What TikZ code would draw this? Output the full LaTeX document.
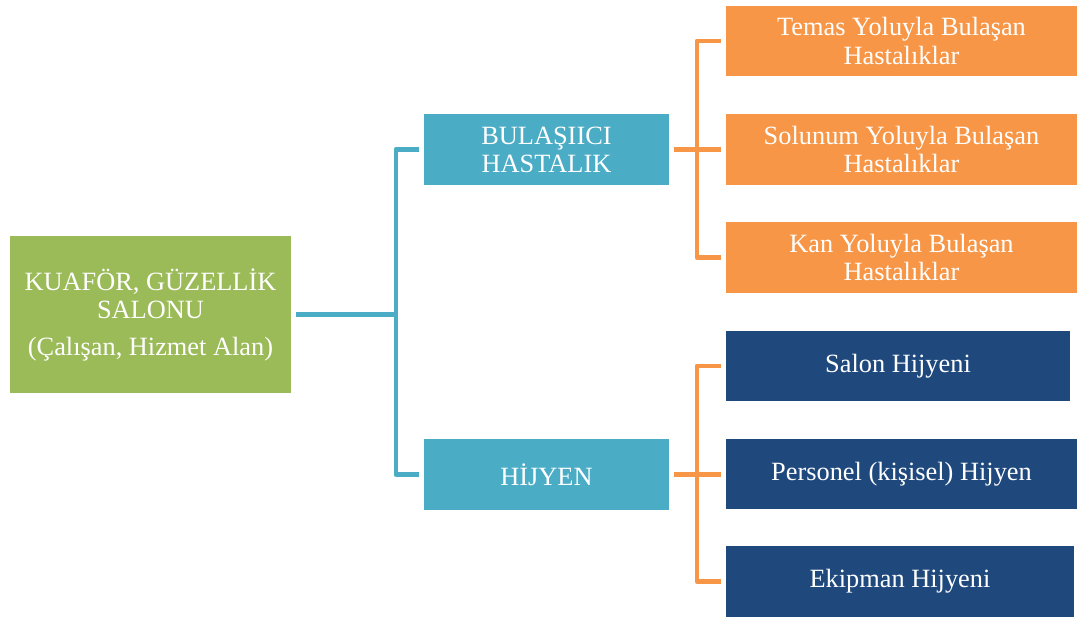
\documentclass[tikz,border=0pt]{standalone}
\usepackage{fontspec}
\setmainfont{Liberation Serif}
\usepackage{tikz}

\definecolor{rootgreen}{HTML}{9BBB59}
\definecolor{midteal}{HTML}{4BACC6}
\definecolor{leaforange}{HTML}{F79646}
\definecolor{leafblue}{HTML}{1F497D}

\begin{document}
\begin{tikzpicture}[x=0.02cm,y=-0.02cm,
  box/.style={shape=rectangle,text=white,align=center,inner sep=0,outer sep=3pt,
    font=\fontsize{15}{16}\selectfont},
  rootbox/.style={box,fill=rootgreen,minimum width=5.62cm,minimum height=3.14cm},
  midbox/.style={box,fill=midteal,minimum width=4.9cm,minimum height=1.42cm},
  redbox/.style={box,fill=leaforange,minimum width=7.02cm,minimum height=1.41cm},
  hygbox/.style={box,fill=leafblue,minimum height=1.41cm},
  tealline/.style={draw=midteal,line width=2.8pt,line join=round},
  orangeline/.style={draw=leaforange,line width=2.8pt,line join=round}]
\useasboundingbox (0,0) rectangle (1077,617);
% root
\node[rootbox] (root) at (150.5,314.5) {KUAFÖR, GÜZELLİK\\SALONU\\[5pt](Çalışan, Hizmet Alan)};
% second level
\node[midbox] (bul) at (546.5,149.5) {BULAŞIICI\\HASTALIK};
\node[midbox] (hij) at (546.5,474.5) {HİJYEN};
% leaves
\node[redbox] (temas) at (901.5,41) {Temas Yoluyla Bulaşan\\Hastalıklar};
\node[redbox] (solunum) at (901.5,149.5) {Solunum Yoluyla Bulaşan\\Hastalıklar};
\node[redbox] (kan) at (901.5,257.5) {Kan Yoluyla Bulaşan\\Hastalıklar};
\node[hygbox,minimum width=6.88cm] (salon) at (898,366) {Salon Hijyeni};
\node[hygbox,minimum width=7.02cm] (personel) at (901.5,474) {Personel (kişisel) Hijyen};
\node[hygbox,minimum width=6.96cm] (ekipman) at (900,581.5) {Ekipman Hijyeni};
% connectors
\coordinate (tj) at (396,314.5);
\coordinate (oja) at (697,149.5);
\coordinate (ojb) at (697,474.5);
\draw[tealline] (root.east) -- (tj);
\draw[tealline] (bul.west) -| (tj) |- (hij.west);
\draw[orangeline] (bul.east) -- (bul.east -| solunum.west);
\draw[orangeline] (temas.west) -| (oja) |- (kan.west);
\draw[orangeline] (hij.east) -- (hij.east -| personel.west);
\draw[orangeline] (salon.west) -| (ojb) |- (ekipman.west);
\end{tikzpicture}
\end{document}
